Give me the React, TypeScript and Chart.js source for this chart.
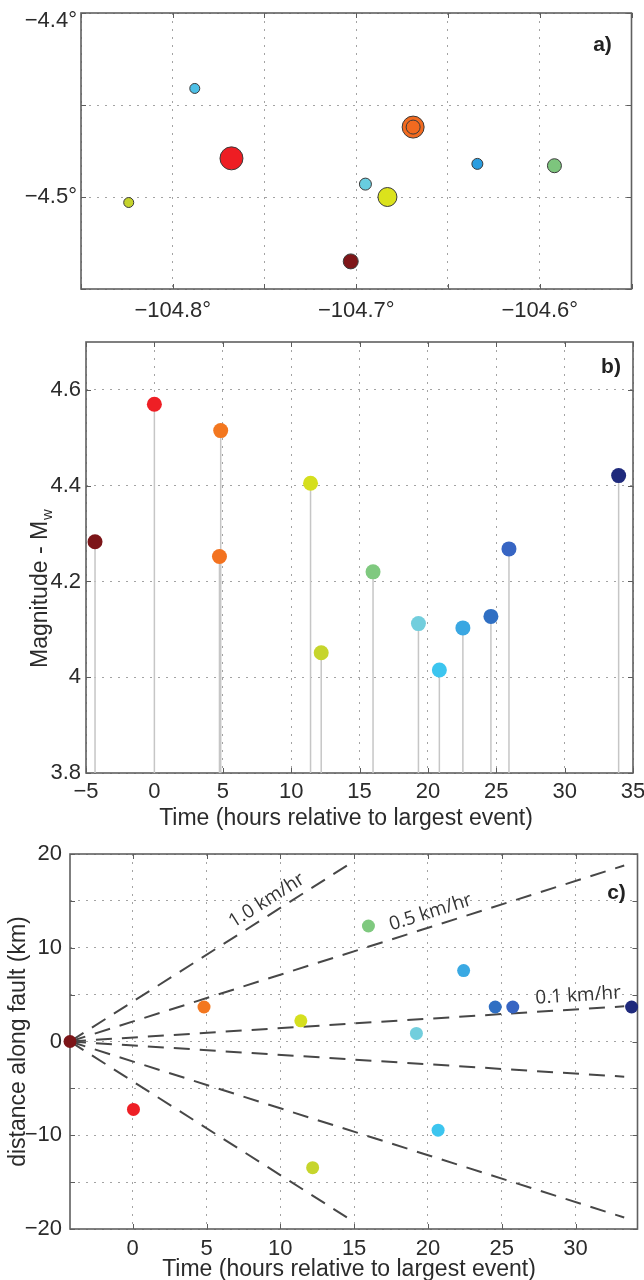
import React, { useEffect, useRef } from 'react';
import { Chart, registerables } from 'chart.js';
Chart.register(...registerables);

// ---------- Panel a: epicentre map ----------
const mapLon = [-104.788, -104.669, -104.669, -104.768, -104.634, -104.592, -104.695, -104.683, -104.824, -104.703];
const mapLat = [-4.441, -4.462, -4.462, -4.479, -4.482, -4.483, -4.493, -4.5, -4.503, -4.535];
const mapSize = [5, 11, 7, 11.5, 5.5, 7, 6, 9.5, 5, 7.5];
const mapColors = ['#4cbfe6', '#f26a1f', '#f26a1f', '#ee1d23', '#2a9de0', '#7dc57d', '#68cde0', '#dbe21c', '#c5d32c', '#7e1518'];
const lonTicks = [-104.85, -104.8, -104.75, -104.7, -104.65, -104.6, -104.55];
const lonLabels = ['', '−104.8°', '', '−104.7°', '', '−104.6°', ''];
const latTicks = [-4.55, -4.5, -4.45, -4.4];
const latLabels = ['', '−4.5°', '', '−4.4°'];

// ---------- Panel b: magnitude vs time ----------
const eventTime = [-4.34, 0.0, 4.85, 4.76, 11.42, 12.2, 15.99, 19.31, 20.84, 22.56, 24.61, 25.93, 33.95];
const magnitude = [4.283, 4.57, 4.515, 4.252, 4.405, 4.051, 4.22, 4.112, 4.015, 4.103, 4.127, 4.268, 4.421];
const eventColors = ['#7c1518', '#ee1f25', '#f3771f', '#f3721f', '#d5df1e', '#c6d52c', '#7fc97f', '#72cedd', '#3cc5ef', '#3aa7e2', '#2f6fc3', '#3765c3', '#1f2a7c'];
const timeTicksB = [-5, 0, 5, 10, 15, 20, 25, 30, 35];
const timeLabelsB = ['−5', '0', '5', '10', '15', '20', '25', '30', '35'];
const magTicks = [3.8, 4.0, 4.2, 4.4, 4.6];
const magLabels = ['3.8', '4', '4.2', '4.4', '4.6'];

// ---------- Panel c: distance along fault vs time ----------
const faultTime = [-4.25, 0.05, 4.83, 11.39, 12.19, 15.97, 19.22, 20.69, 22.42, 24.56, 25.75, 33.8];
const faultDist = [0, -7.25, 3.68, 2.21, -13.46, 12.32, 0.86, -9.46, 7.57, 3.68, 3.68, 3.68];
const faultColors = ['#7c1518', '#ee1f25', '#f3771f', '#d5df1e', '#c6d52c', '#7fc97f', '#72cedd', '#3cc5ef', '#3aa9e3', '#2f6fc3', '#3765c3', '#1f2a7c'];
const speeds = [1.0, 0.5, 0.1];
const speedLabels = ['1.0 km/hr', '0.5 km/hr', '0.1 km/hr'];
const speedLineEnd = [15.0, 33.3, 33.3];
const timeTicksC = [0, 5, 10, 15, 20, 25, 30];
const timeLabelsC = ['0', '5', '10', '15', '20', '25', '30'];
const distTicks = [-20, -15, -10, -5, 0, 5, 10, 15, 20];
const distLabels = ['−20', '', '−10', '', '0', '', '10', '', '20'];

// annotation anchor points (data coords) for speed labels
const speedLabelAnchor = [
  [9.08, 15.05],
  [20.18, 13.76],
  [30.18, 4.89],
];

const FONT = '"Liberation Sans", Arial, Helvetica, sans-serif';
const TEXT = '#2b2b2b';

function linearAxis(o: {
  min: number; max: number; ticks: number[]; labels: any[]; pad: number; size: number; horizontal: boolean; lineHeight?: number;
}) {
  return {
    type: 'linear' as const,
    min: o.min,
    max: o.max,
    afterBuildTicks: (s: any) => { s.ticks = o.ticks.map((v) => ({ value: v })); },
    afterFit: (s: any) => {
      if (o.horizontal) s.height = o.size; else s.width = o.size;
      s.paddingLeft = 0; s.paddingRight = 0; s.paddingTop = 0; s.paddingBottom = 0;
    },
    grid: { color: '#a3a3a3', lineWidth: 1, drawTicks: false },
    border: { display: false, dash: [2, 6] },
    ticks: {
      padding: o.pad,
      color: TEXT,
      autoSkip: false,
      maxRotation: 0,
      minRotation: 0,
      includeBounds: false,
      font: { family: FONT, size: 22, lineHeight: o.lineHeight ?? 1.2 },
      callback: (_v: any, i: number) => (o.labels[i] ?? ''),
    },
  };
}

const framePlugin = {
  id: 'frame',
  beforeDatasetsDraw(chart: any) {
    const { ctx, chartArea, scales } = chart;
    const { left, right, top, bottom } = chartArea;
    ctx.save();
    ctx.strokeStyle = '#5c5c5c';
    ctx.lineWidth = 1;
    const tl = 5;
    ctx.beginPath();
    scales.x.ticks.forEach((t: any) => {
      const p = Math.round(scales.x.getPixelForValue(t.value)) + 0.5;
      ctx.moveTo(p, bottom); ctx.lineTo(p, bottom - tl);
      ctx.moveTo(p, top); ctx.lineTo(p, top + tl);
    });
    scales.y.ticks.forEach((t: any) => {
      const p = Math.round(scales.y.getPixelForValue(t.value)) + 0.5;
      ctx.moveTo(left, p); ctx.lineTo(left + tl, p);
      ctx.moveTo(right, p); ctx.lineTo(right - tl, p);
    });
    ctx.stroke();
    ctx.lineWidth = 1.6;
    ctx.strokeStyle = '#606060';
    ctx.strokeRect(left, top, right - left, bottom - top);
    ctx.restore();
  },
};

function textPlugin(draw: (chart: any, ctx: CanvasRenderingContext2D) => void) {
  return {
    id: 'texts',
    afterDraw(chart: any) {
      const ctx = chart.ctx as CanvasRenderingContext2D;
      ctx.save();
      draw(chart, ctx);
      ctx.restore();
    },
  };
}

function panelLetter(ctx: CanvasRenderingContext2D, chart: any, s: string, dx: number, dy: number) {
  ctx.save();
  ctx.font = `bold 21px ${FONT}`;
  ctx.fillStyle = '#222';
  ctx.textAlign = 'center';
  ctx.textBaseline = 'middle';
  ctx.fillText(s, chart.chartArea.right - dx, chart.chartArea.top + dy);
  ctx.restore();
}

function hTitle(ctx: CanvasRenderingContext2D, s: string, cx: number, baseline: number) {
  ctx.save();
  ctx.font = `23px ${FONT}`;
  ctx.fillStyle = TEXT;
  ctx.textAlign = 'center';
  ctx.textBaseline = 'alphabetic';
  ctx.fillText(s, cx, baseline);
  ctx.restore();
}

function vTitle(ctx: CanvasRenderingContext2D, main: string, sub: string, baselineX: number, cy: number) {
  ctx.save();
  ctx.translate(baselineX, cy);
  ctx.rotate(-Math.PI / 2);
  ctx.fillStyle = TEXT;
  ctx.textBaseline = 'alphabetic';
  ctx.textAlign = 'left';
  const mainFont = `23px ${FONT}`;
  const subFont = `15px ${FONT}`;
  ctx.font = subFont;
  const ws = sub ? ctx.measureText(sub).width : 0;
  ctx.font = mainFont;
  const wm = ctx.measureText(main).width;
  const x0 = -(wm + ws) / 2;
  ctx.fillText(main, x0, 0);
  if (sub) {
    ctx.font = subFont;
    ctx.fillText(sub, x0 + wm + 1, 5);
  }
  ctx.restore();
}

const baseOptions = (pad: { top: number; right: number }) => ({
  responsive: false,
  maintainAspectRatio: false,
  animation: false as const,
  devicePixelRatio: 1,
  events: [] as any[],
  layout: { padding: { top: pad.top, right: pad.right, left: 0, bottom: 0 } },
  plugins: { legend: { display: false }, tooltip: { enabled: false } },
});

function makeA(canvas: HTMLCanvasElement) {
  const latDisp = latLabels.map((l, i) => (i === latLabels.length - 1 ? ['', l] : l));
  return new Chart(canvas, {
    type: 'scatter',
    data: {
      datasets: [
        {
          data: mapLon.map((x, i) => ({ x, y: mapLat[i] })),
          pointBackgroundColor: mapColors,
          pointBorderColor: '#3a3a3a',
          pointBorderWidth: 1,
          pointRadius: mapSize,
          pointHoverRadius: mapSize,
          clip: false,
        } as any,
      ],
    },
    options: {
      ...baseOptions({ top: 13, right: 7 }),
      scales: {
        x: linearAxis({ min: -104.85, max: -104.55, ticks: lonTicks, labels: lonLabels, pad: 9, size: 46, horizontal: true }),
        y: linearAxis({ min: -4.55, max: -4.4, ticks: latTicks, labels: latDisp, pad: 4, size: 81, horizontal: false, lineHeight: 0.73 }),
      },
    } as any,
    plugins: [framePlugin, textPlugin((chart, ctx) => panelLetter(ctx, chart, 'a)', 29, 32))],
  });
}

function makeB(canvas: HTMLCanvasElement) {
  const stems: any[] = [];
  eventTime.forEach((t, i) => {
    stems.push({ x: t, y: magTicks[0] }, { x: t, y: magnitude[i] }, { x: t, y: null });
  });
  return new Chart(canvas, {
    type: 'scatter',
    data: {
      datasets: [
        {
          data: eventTime.map((x, i) => ({ x, y: magnitude[i] })),
          pointBackgroundColor: eventColors,
          pointBorderWidth: 0,
          pointRadius: 7.5,
          pointHoverRadius: 7.5,
          order: 1,
          clip: false,
        } as any,
        {
          data: stems,
          showLine: true,
          spanGaps: false,
          borderColor: '#c6c6c6',
          borderWidth: 1.5,
          pointRadius: 0,
          pointHoverRadius: 0,
          order: 2,
          clip: false,
        } as any,
      ],
    },
    options: {
      ...baseOptions({ top: 17, right: 11 }),
      scales: {
        x: linearAxis({ min: -5, max: 35, ticks: timeTicksB, labels: timeLabelsB, pad: 6, size: 67, horizontal: true }),
        y: linearAxis({ min: 3.8, max: 4.7, ticks: magTicks, labels: magLabels, pad: 5, size: 86, horizontal: false }),
      },
    } as any,
    plugins: [
      framePlugin,
      textPlugin((chart, ctx) => {
        panelLetter(ctx, chart, 'b)', 22, 25);
        hTitle(ctx, 'Time (hours relative to largest event)', 346, 500);
        vTitle(ctx, 'Magnitude - M', 'w', 47, 264);
      }),
    ],
  });
}

function makeC(canvas: HTMLCanvasElement) {
  const t0 = faultTime[0];
  const lines: any[] = [];
  speeds.forEach((v, i) => {
    [1, -1].forEach((sgn) => {
      lines.push({
        data: [
          { x: t0, y: 0 },
          { x: speedLineEnd[i], y: sgn * v * (speedLineEnd[i] - t0) },
        ],
        showLine: true,
        borderColor: '#474747',
        borderWidth: 2,
        borderDash: [16, 10],
        pointRadius: 0,
        pointHoverRadius: 0,
        order: 2,
        clip: false,
      });
    });
  });
  return new Chart(canvas, {
    type: 'scatter',
    data: {
      datasets: [
        {
          data: faultTime.map((x, i) => ({ x, y: faultDist[i] })),
          pointBackgroundColor: faultColors,
          pointBorderWidth: 0,
          pointRadius: 6.5,
          pointHoverRadius: 6.5,
          order: 1,
          clip: false,
        } as any,
        ...lines,
      ],
    },
    options: {
      ...baseOptions({ top: 24, right: 4 }),
      scales: {
        x: linearAxis({ min: -4.25, max: 34.2, ticks: timeTicksC, labels: timeLabelsC, pad: 7, size: 51, horizontal: true }),
        y: linearAxis({ min: -20, max: 20, ticks: distTicks, labels: distLabels, pad: 8, size: 70, horizontal: false }),
      },
    } as any,
    plugins: [
      framePlugin,
      textPlugin((chart, ctx) => {
        const xs = chart.scales.x;
        const ys = chart.scales.y;
        speeds.forEach((v, i) => {
          const [t, d] = speedLabelAnchor[i];
          const px = xs.getPixelForValue(t);
          const py = ys.getPixelForValue(d);
          const ang = Math.atan2(
            ys.getPixelForValue(v * (t + 1 - t0)) - ys.getPixelForValue(v * (t - t0)),
            xs.getPixelForValue(t + 1) - xs.getPixelForValue(t)
          );
          ctx.save();
          ctx.translate(px, py);
          ctx.rotate(ang);
          ctx.font = '19px "Open Sans", "DejaVu Sans", sans-serif';
          ctx.fillStyle = '#333';
          ctx.textAlign = 'center';
          ctx.textBaseline = 'middle';
          ctx.fillText(speedLabels[i], 0, 0);
          ctx.restore();
        });
        panelLetter(ctx, chart, 'c)', 21, 39);
        hTitle(ctx, 'Time (hours relative to largest event)', 349, 446);
        vTitle(ctx, 'distance along fault (km)', '', 25, 211.5);
      }),
    ],
  });
}

export default function App() {
  const aRef = useRef<HTMLCanvasElement>(null);
  const bRef = useRef<HTMLCanvasElement>(null);
  const cRef = useRef<HTMLCanvasElement>(null);

  useEffect(() => {
    const charts = [makeA(aRef.current!), makeB(bRef.current!), makeC(cRef.current!)];
    return () => charts.forEach((c) => c.destroy());
  }, []);

  const cs = (top: number, h: number): React.CSSProperties => ({
    position: 'absolute', left: 0, top, width: 644, height: h, display: 'block',
  });

  return (
    <div style={{ position: 'absolute', left: 0, top: 0, width: 644, height: 1280, background: '#ffffff', overflow: 'hidden' }}>
      <canvas ref={aRef} width={644} height={335} style={cs(0, 335)} />
      <canvas ref={bRef} width={644} height={515} style={cs(325, 515)} />
      <canvas ref={cRef} width={644} height={450} style={cs(830, 450)} />
    </div>
  );
}
